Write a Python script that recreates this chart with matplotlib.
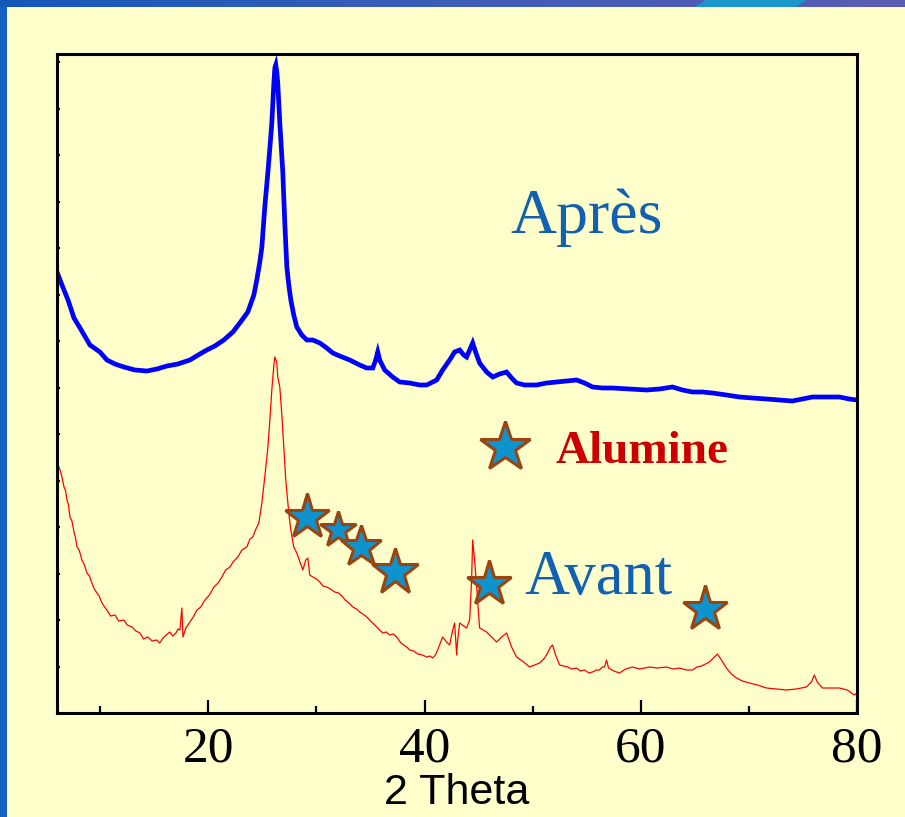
import matplotlib
matplotlib.use("Agg")
import matplotlib.pyplot as plt
import numpy as np
from matplotlib.patches import Polygon
from matplotlib.colors import LinearSegmentedColormap

# ---- XRD patterns (2 theta in degrees, intensity in arbitrary units) ----
apres_theta = [6.00, 6.46, 7.02, 7.57, 8.13, 9.05, 9.97, 10.62, 11.36, 12.19,
               13.21, 14.32, 15.24, 16.17, 17.18, 18.29, 19.22, 19.86, 20.60, 21.43,
               22.27, 22.91, 23.65, 24.21, 24.48, 24.76, 24.95, 25.22, 25.50, 25.69,
               25.87, 26.06, 26.15, 26.24, 26.33, 26.42, 26.61, 26.89, 27.07, 27.26,
               27.44, 27.63, 27.90, 28.18, 28.64, 29.11, 29.66, 30.31, 30.95, 31.51,
               32.15, 33.08, 34.00, 34.65, 35.21, 35.48, 35.67, 35.85, 36.31, 37.05,
               37.70, 38.62, 39.55, 40.20, 41.12, 41.67, 42.32, 42.78, 43.25, 43.62,
               43.89, 44.17, 44.45, 44.72, 45.09, 45.74, 46.30, 46.94, 47.59, 48.05,
               48.51, 49.25, 50.36, 51.29, 52.21, 53.13, 54.06, 54.80, 55.54, 56.46,
               57.39, 58.96, 60.53, 61.73, 62.93, 63.86, 64.78, 65.70, 66.63, 67.92,
               69.12, 70.32, 71.62, 72.82, 74.02, 74.95, 75.87, 77.17, 78.37, 79.29,
               80.00]
apres_int = [441, 428, 413, 395, 385, 368, 361, 353, 349, 346,
             343, 342, 344, 347, 349, 353, 359, 363, 367, 373,
             381, 390, 401, 418, 433, 451, 466, 506, 540, 565,
             590, 630, 645, 648, 641, 630, 590, 540, 490, 446,
             428, 413, 398, 386, 378, 373, 373, 370, 365, 360,
             357, 353, 348, 345, 345, 353, 361, 353, 343, 336,
             331, 330, 328, 328, 333, 343, 353, 361, 363, 358,
             356, 363, 370, 361, 350, 341, 336, 339, 341, 335,
             330, 328, 328, 330, 331, 332, 333, 330, 326, 325,
             325, 324, 323, 324, 326, 323, 321, 321, 320, 318,
             316, 315, 314, 313, 312, 314, 316, 316, 316, 314,
             313]

avant_theta = [6.00, 6.14, 6.28, 6.46, 6.65, 6.80, 6.92, 7.06, 7.20, 7.38,
               7.57, 7.70, 7.85, 8.05, 8.31, 8.50, 8.77, 9.00, 9.23, 9.45,
               9.70, 9.90, 10.16, 10.40, 10.62, 10.95, 11.36, 11.70, 12.19, 12.50,
               12.93, 13.30, 13.67, 14.00, 14.41, 14.80, 15.24, 15.50, 15.80, 16.10,
               16.44, 16.70, 17.00, 17.20, 17.37, 17.55, 17.65, 17.92, 18.29, 18.60,
               18.94, 19.30, 19.68, 20.10, 20.51, 20.90, 21.25, 21.60, 21.99, 22.35,
               22.73, 23.10, 23.56, 23.85, 24.11, 24.40, 24.67, 24.95, 25.22, 25.50,
               25.69, 25.87, 26.06, 26.15, 26.33, 26.42, 26.61, 26.80, 26.98, 27.16,
               27.44, 27.63, 27.90, 28.18, 28.74, 29.01, 29.20, 29.38, 29.66, 30.00,
               30.31, 30.60, 30.95, 31.30, 31.69, 32.05, 32.43, 32.65, 32.89, 33.10,
               33.36, 33.70, 34.00, 34.30, 34.65, 35.00, 35.39, 35.75, 36.13, 36.45,
               36.78, 37.10, 37.42, 37.75, 38.07, 38.35, 38.62, 39.00, 39.36, 39.80,
               40.20, 40.50, 40.75, 41.00, 41.21, 41.67, 42.04, 42.32, 42.60, 42.78,
               42.97, 43.06, 43.25, 43.62, 43.89, 44.17, 44.35, 44.45, 44.63, 44.82,
               45.09, 45.74, 46.30, 46.67, 47.13, 47.59, 48.05, 48.51, 49.16, 49.72,
               50.18, 50.64, 51.10, 51.38, 51.66, 51.84, 52.12, 52.49, 53.23, 53.60,
               54.06, 54.40, 54.80, 55.20, 55.54, 55.90, 56.18, 56.45, 56.65, 56.83,
               57.02, 57.50, 58.03, 58.60, 59.23, 59.90, 60.81, 61.50, 62.38, 63.00,
               63.58, 64.20, 64.78, 65.20, 65.61, 66.35, 66.72, 67.09, 67.46, 67.92,
               68.38, 68.85, 69.40, 70.05, 70.79, 71.62, 72.54, 73.47, 74.39, 75.32,
               75.78, 76.05, 76.33, 76.80, 77.44, 78.37, 79.10, 79.75, 80.00]
avant_int = [256, 247, 243, 236, 226, 222, 213, 208, 196, 192,
             181, 176, 166, 163, 153, 149, 140, 137, 130, 124,
             120, 117, 110, 106, 103, 97, 98, 92, 93, 88,
             86, 82, 80, 74, 76, 72, 73, 70, 75, 78,
             81, 77, 80, 84, 83, 105, 76, 85, 91, 96,
             103, 106, 113, 118, 126, 130, 136, 143, 146, 152,
             156, 163, 166, 174, 176, 184, 190, 210, 236, 265,
             293, 323, 348, 356, 351, 336, 326, 298, 266, 233,
             200, 183, 166, 160, 143, 153, 155, 138, 136, 134,
             131, 127, 126, 124, 121, 120, 116, 113, 111, 109,
             106, 104, 101, 99, 96, 92, 88, 84, 80, 81,
             78, 79, 76, 71, 68, 66, 63, 62, 59, 58,
             56, 57, 55, 58, 63, 76, 71, 68, 83, 90,
             58, 73, 90, 87, 85, 93, 133, 173, 153, 126,
             85, 81, 75, 71, 76, 80, 66, 56, 51, 46,
             48, 50, 55, 60, 66, 68, 58, 48, 46, 44,
             45, 42, 43, 40, 41, 43, 43, 46, 46, 53,
             45, 42, 40, 44, 46, 44, 46, 45, 46, 44,
             45, 43, 43, 46, 47, 51, 55, 59, 53, 45,
             39, 35, 32, 30, 28, 25, 24, 23, 24, 26,
             31, 38, 31, 25, 25, 25, 23, 18, 20]

# Alumina reflections marked with stars, plus the key star
alumine_theta = [29.11, 31.97, 34.10, 37.24, 45.93, 65.98]
alumine_int = [196, 183, 166, 141, 129, 104]
key_star = (47.4, 266)

xticks_major = [20, 40, 60, 80]
xticks_minor = [10, 30, 50, 70]

# ---- styling ----
BG = "#FFFFCC"
TXT_BLUE = "#1261B1"
STAR_FACE = "#0E93CC"
STAR_EDGE = "#9A4412"

fig = plt.figure(figsize=(9.05, 8.17), dpi=100, facecolor=BG)

# slide border: left bar and top gradient strip
left_bar = fig.add_axes([0, 0, 7 / 905, 1])
left_bar.set_axis_off()
left_bar.add_patch(plt.Rectangle((0, 0), 1, 1, color="#1560BE", transform=left_bar.transAxes))

top_bar = fig.add_axes([0, 1 - 7 / 817, 1, 7 / 817])
top_bar.set_axis_off()
grad = np.linspace(0, 1, 256)[None, :]
cm = LinearSegmentedColormap.from_list("slide", ["#1558BA", "#3E5EB8", "#5C5CB2"])
top_bar.imshow(grad, aspect="auto", cmap=cm, extent=(0, 905, 0, 7))
top_bar.add_patch(Polygon([(696, 0), (707, 7), (805, 7), (795, 0)], closed=True,
                          color="#1A98CC"))
top_bar.set_xlim(0, 905)
top_bar.set_ylim(0, 7)

ax = fig.add_axes([57 / 905, 104 / 817, 800 / 905, 659 / 817])
ax.set_facecolor(BG)

ax.plot(apres_theta, apres_int, color="#0000FF", lw=3.4, solid_joinstyle="miter")
ax.plot(avant_theta, avant_int, color="#FF0000", lw=0.9)

for th, it, ms in zip(alumine_theta, alumine_int, [34, 27, 31, 35, 34, 34]):
    ax.plot(th, it, marker="*", ms=ms, mfc=STAR_FACE, mec=STAR_EDGE, mew=2.2,
            linestyle="none")
ax.plot(*key_star, marker="*", ms=38, mfc=STAR_FACE, mec=STAR_EDGE, mew=2.2,
        linestyle="none")

ax.text(55.0, 480, "Après", color=TXT_BLUE, fontsize=46, family="Liberation Serif",
        ha="center", va="baseline")
ax.text(49.25, 119, "Avant", color=TXT_BLUE, fontsize=45, family="Liberation Serif",
        ha="left", va="baseline")
ax.text(52.1, 250, "Alumine", color="#CC0000", fontsize=34, fontweight="bold",
        family="Liberation Serif", ha="left", va="baseline")

ax.set_xlim(6, 80)
ax.set_ylim(0, 659)
ax.set_xticks(xticks_major)
ax.set_xticks(xticks_minor, minor=True)
ax.set_xticklabels([str(v) for v in xticks_major], family="Liberation Serif", fontsize=37)
ax.set_yticks(np.arange(0, 659, 46.5))
ax.set_yticklabels([])
ax.tick_params(axis="x", which="major", direction="in", length=9.5, width=1.6, pad=9)
ax.tick_params(axis="x", which="minor", direction="in", length=5, width=1.6)
ax.tick_params(axis="y", direction="in", length=2.5, width=1.6)
for s in ax.spines.values():
    s.set_linewidth(2.2)
    s.set_color("black")

ax.set_xlabel("2 Theta", fontsize=31, family="Liberation Sans", labelpad=1)

fig.savefig("out.png", dpi=100, facecolor=BG)
